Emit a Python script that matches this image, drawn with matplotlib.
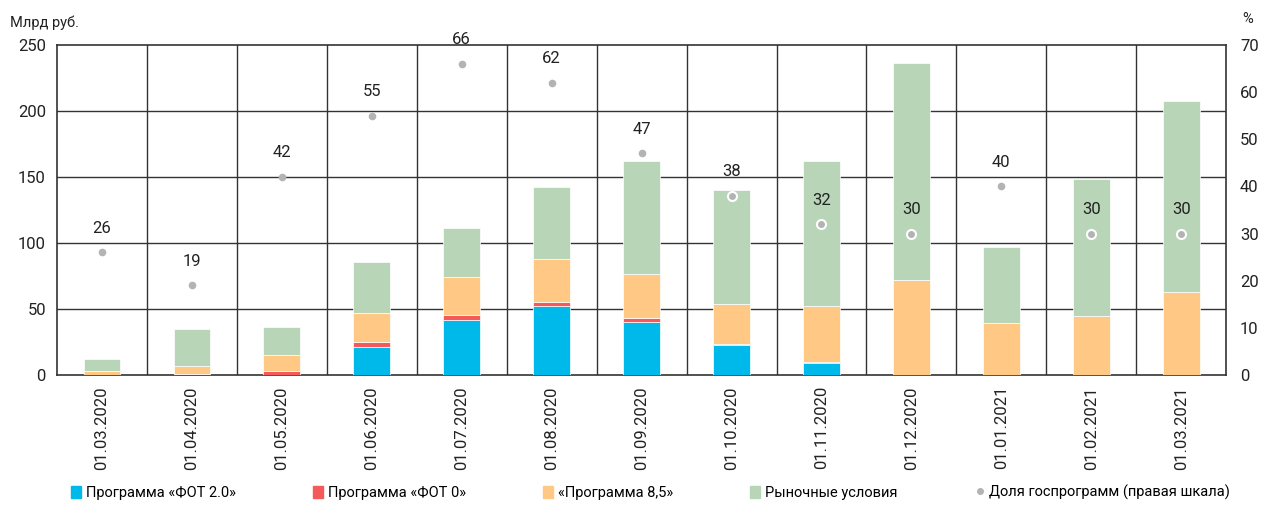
import numpy as np
import matplotlib
matplotlib.use("Agg")
import matplotlib.pyplot as plt
from matplotlib.patches import Patch
from matplotlib.lines import Line2D

plt.rcParams['font.family'] = ['Roboto', 'DejaVu Sans']

dates = ["01.03.2020", "01.04.2020", "01.05.2020", "01.06.2020", "01.07.2020",
         "01.08.2020", "01.09.2020", "01.10.2020", "01.11.2020", "01.12.2020",
         "01.01.2021", "01.02.2021", "01.03.2021"]
fot20 = [0, 0, 0, 21, 42, 52, 40, 22.5, 9, 0, 0, 0, 0]
fot0 = [0, 1, 3, 4, 3.5, 3.5, 3.3, 1.2, 1, 0, 0, 0, 0]
prog85 = [3, 6, 12.4, 22, 28.5, 32, 33.3, 30.3, 42, 72, 39.5, 45, 62.5]
market = [9, 28, 21, 38.5, 37.5, 55, 85.6, 86.4, 110, 164, 57.5, 103.5, 145]
share = [26, 19, 42, 55, 66, 62, 47, 38, 32, 30, 40, 30, 30]

c_blue = "#00B9EB"
c_red = "#F55A5A"
c_orange = "#FFC985"
c_green = "#B8D5B8"
c_gray = "#B3B3B3"

fig = plt.figure(figsize=(12.68, 5.05), dpi=100)
ax = fig.add_axes([0.045, 0.2574, 0.922, 0.6536])
ax2 = ax.twinx()

x = np.arange(len(dates))
w = 0.41
b = np.zeros(len(dates))
for vals, col in [(fot20, c_blue), (fot0, c_red), (prog85, c_orange), (market, c_green)]:
    ax.bar(x, vals, w, bottom=b, color=col, edgecolor="white", linewidth=0.5, zorder=3)
    b = b + np.array(vals)

ax.set_xlim(-0.5, len(dates) - 0.5)
ax.set_ylim(0, 250)
ax.set_yticks(np.arange(0, 251, 50))
ax.grid(False)
for yv in np.arange(50, 250, 50):
    ax.axhline(yv, color="#333333", lw=1, zorder=1)
for xv in np.arange(0.5, len(dates) - 0.5, 1):
    ax.axvline(xv, color="#333333", lw=1, zorder=1)
for s in ax.spines.values():
    s.set_color("#333333")
    s.set_linewidth(1.2)
ax.set_xticks(x)
ax.set_xticklabels(dates, rotation=90, fontsize=12, color="#222222")
ax.tick_params(axis="both", length=0, pad=8, labelsize=12, colors="#222222")

ax2.set_ylim(0, 70)
ax2.set_yticks(np.arange(0, 71, 10))
ax2.tick_params(axis="y", length=0, pad=10, labelsize=12, colors="#222222")
for s in ax2.spines.values():
    s.set_visible(False)

for i, v in enumerate(share):
    inside = v / 70 * 250 < b[i]
    ax2.plot(x[i], v, "o", color=c_gray, ms=6.5 if inside else 5.5,
             mec="white" if inside else c_gray, mew=1.5 if inside else 0, zorder=5)
    ax2.text(x[i], v + 3.5, str(v), ha="center", va="bottom", fontsize=12,
             color="#222222", zorder=6)

fig.text(0.008, 0.955, "Млрд руб.", fontsize=10.5, color="#222222", va="center")
fig.text(0.988, 0.962, "%", fontsize=10.5, color="#222222", va="center", ha="right")

handles = [Patch(color=c_blue), Patch(color=c_red), Patch(color=c_orange), Patch(color=c_green),
           Line2D([], [], marker="o", ls="", color=c_gray, ms=4)]
labels = ["Программа «ФОТ 2.0»", "Программа «ФОТ 0»", "«Программа 8,5»",
          "Рыночные условия", "Доля госпрограмм (правая шкала)"]
fig.legend(handles, labels, loc="center", bbox_to_anchor=(0.513, 0.025), ncol=5,
           frameon=False, fontsize=10.5, handlelength=0.7, handleheight=0.9,
           handletextpad=0.3, columnspacing=5.3)

fig.savefig("out.png", dpi=100)
